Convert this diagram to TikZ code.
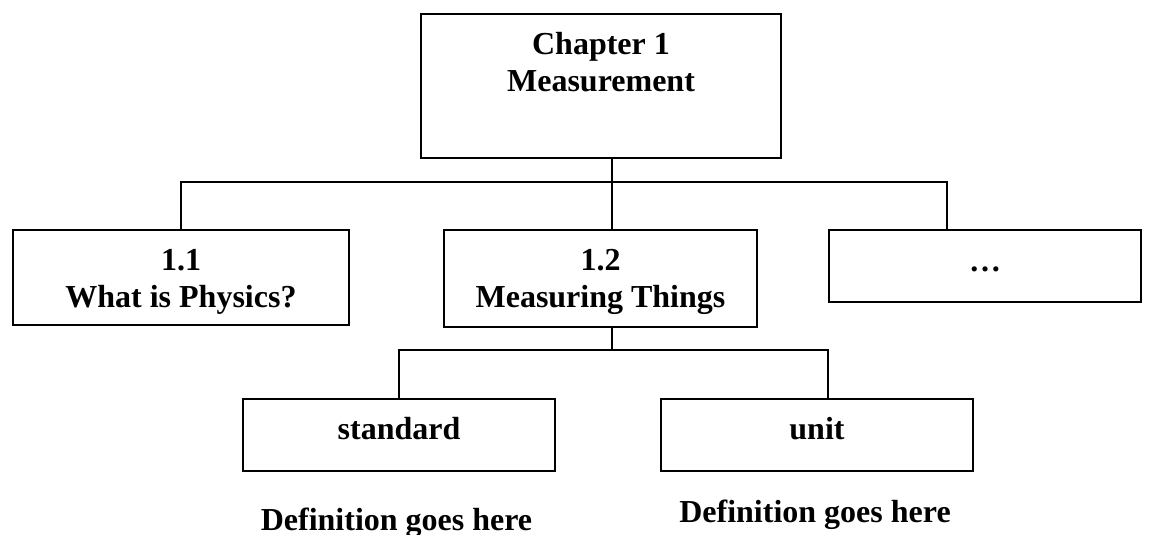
\documentclass[tikz,border=0pt]{standalone}
\usepackage{fontspec}
\setmainfont{Liberation Serif}
\newcommand{\bxt}[4]{\parbox[c][#2pt][t]{#1pt}{\centering\rule{0pt}{#3pt}#4}}
\tikzset{
  box/.style={draw, line width=2pt, inner sep=0pt, anchor=north west,
    font=\bfseries\fontsize{32}{37.5}\selectfont},
  lbl/.style={anchor=base, inner sep=0pt,
    font=\bfseries\fontsize{32}{37.5}\selectfont},
  conn/.style={line width=2pt}
}
\begin{document}
\begin{tikzpicture}[x=1pt,y=-1pt]
\useasboundingbox (0,0) rectangle (1151,535);
\node[box] (top)   at (420,13)  {\bxt{360}{144}{40}{Chapter 1\\Measurement}};
\node[box] (sec11) at (12,229)  {\bxt{336}{95}{40}{1.1\\What is Physics?}};
\node[box] (sec12) at (443,229) {\bxt{313}{97}{40}{1.2\\Measuring Things}};
\node[box] (more)  at (828,229) {\bxt{312}{72}{41}{…}};
\node[box] (std)   at (242,398) {\bxt{312}{72}{40}{standard}};
\node[box] (unit)  at (660,398) {\bxt{312}{72}{40}{unit}};
\node[lbl] (defa) at (396.5,530) {Definition goes here};
\node[lbl] (defb) at (815,522) {Definition goes here};
\coordinate (bus1) at (612,182);
\coordinate (morein) at (947,229);
\coordinate (bus2) at (612,350);
\coordinate (unitin) at (828,398);
\draw[conn] (top.south -| bus1) -- (bus1);
\draw[conn] (sec11.north) |- (bus1) -| (morein);
\draw[conn] (bus1) -- (sec12.north -| bus1);
\draw[conn] (sec12.south -| bus2) -- (bus2);
\draw[conn] (std.north) |- (bus2) -| (unitin);
\end{tikzpicture}
\end{document}
